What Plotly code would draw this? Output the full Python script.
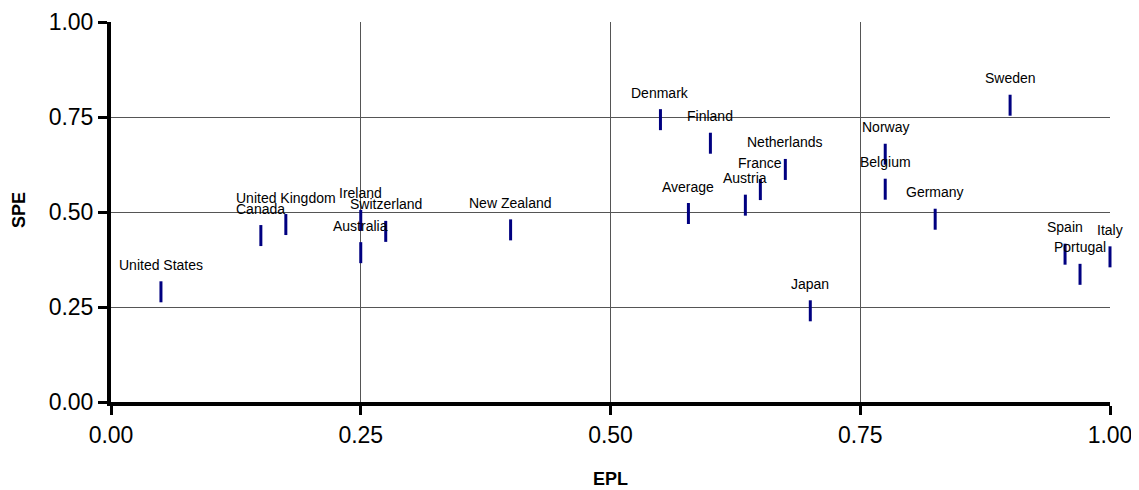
import plotly.graph_objects as go

countries = ["United States", "Canada", "United Kingdom", "Ireland", "Australia",
             "Switzerland", "New Zealand", "Denmark", "Finland", "Netherlands",
             "France", "Austria", "Average", "Norway", "Belgium", "Germany",
             "Sweden", "Spain", "Portugal", "Italy", "Japan"]
epl = [0.05, 0.15, 0.175, 0.25, 0.25, 0.275, 0.40, 0.55, 0.60, 0.675,
       0.65, 0.635, 0.578, 0.775, 0.775, 0.825, 0.90, 0.955, 0.97, 1.00, 0.70]
spe = [0.29, 0.438, 0.467, 0.478, 0.393, 0.449, 0.453, 0.743, 0.681, 0.612,
       0.559, 0.518, 0.496, 0.652, 0.56, 0.481, 0.781, 0.389, 0.336, 0.382, 0.24]

tick_vals = [0, 0.25, 0.5, 0.75, 1.0]
tick_text = ["0.00", "0.25", "0.50", "0.75", "1.00"]
x_title = "EPL"
y_title = "SPE"

FONT = "Liberation Sans, Arial, sans-serif"

fig = go.Figure()
fig.add_trace(go.Scatter(
    x=epl, y=spe, mode="markers",
    marker=dict(symbol="line-ns", size=15,
                line=dict(color="#000080", width=3), color="#000080"),
    hoverinfo="skip", showlegend=False, cliponaxis=False,
))

for name, xv, yv in zip(countries, epl, spe):
    fig.add_annotation(x=xv, y=yv, text=name, showarrow=False, yshift=27,
                       font=dict(family=FONT, size=14, color="black"))

# axis titles
fig.add_annotation(xref="paper", yref="paper", x=0.5, y=-0.2026,
                   text="<b>" + x_title + "</b>", showarrow=False,
                   xanchor="center", yanchor="middle",
                   font=dict(family=FONT, size=18, color="black"))
fig.add_annotation(xref="paper", yref="paper", x=-0.0921, y=0.505,
                   text="<b>" + y_title + "</b>", showarrow=False, textangle=-90,
                   xanchor="center", yanchor="middle",
                   font=dict(family=FONT, size=18, color="black"))

axis_common = dict(
    range=[0, 1], tickvals=tick_vals, ticktext=tick_text,
    showgrid=True, gridcolor="#555555", gridwidth=1,
    zeroline=False, showline=True, linecolor="black", linewidth=4,
    ticks="outside", ticklen=9, tickwidth=3, tickcolor="black",
    tickfont=dict(family=FONT, size=23, color="black"),
    fixedrange=True, automargin=False,
)

# page body has an 8px margin, so the figure is sized to fit inside the window
fig.update_layout(
    width=1131, height=482,
    margin=dict(l=103, r=29, t=14, b=88, autoexpand=False),
    paper_bgcolor="white", plot_bgcolor="white",
    font=dict(family=FONT, color="black"),
    xaxis=dict(**axis_common),
    yaxis=dict(**axis_common),
    hovermode=False,
)

fig.write_html("out.html")
